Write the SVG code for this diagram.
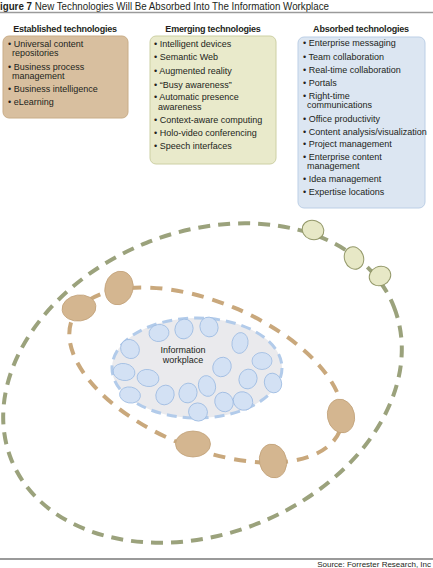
<svg xmlns="http://www.w3.org/2000/svg" width="433" height="568" viewBox="0 0 433 568">
<style>
text{font-family:"Liberation Sans",Arial,sans-serif;fill:#231f20}
.hd{font-size:9px;font-weight:bold;text-anchor:middle;letter-spacing:-0.2px}
.it{font-size:9px}
.green{fill:none;stroke:#9ba27c;stroke-width:4;stroke-dasharray:12 8}
.tan{fill:none;stroke:#c9a87c;stroke-width:4;stroke-dasharray:12 9}
.tb{fill:#d4b690;stroke:#c2a27a;stroke-width:0.8}
.gb{fill:#e7e8c6;stroke:#939869;stroke-width:1}
.bb{fill:#d3e1f4;stroke:#9dbbe2;stroke-width:0.8}
</style>
<rect width="433" height="568" fill="#ffffff"/>
<text x="0" y="9.5" font-size="10" textLength="329" lengthAdjust="spacingAndGlyphs"><tspan font-weight="bold">igure 7</tspan> New Technologies Will Be Absorbed Into The Information Workplace</text>
<line x1="0" y1="12.5" x2="433" y2="12.5" stroke="#9a9a9a" stroke-width="1.5"/>

<g id="established">
<text class="hd" x="65" y="31.5">Established technologies</text>
<rect x="3" y="36" width="125" height="82" rx="6" fill="#d8bf9f" stroke="#c9ad88" stroke-width="1"/>
<text class="it" x="8" y="47">• Universal content</text>
<text class="it" x="12" y="55.5">repositories</text>
<text class="it" x="8" y="70">• Business process</text>
<text class="it" x="12" y="78.5">management</text>
<text class="it" x="8" y="92">• Business intelligence</text>
<text class="it" x="8" y="105">• eLearning</text>
</g>

<g id="emerging">
<text class="hd" x="213" y="31.5">Emerging technologies</text>
<rect x="150" y="36" width="126" height="128" rx="6" fill="#e9eacb" stroke="#cdd0a4" stroke-width="1"/>
<text class="it" x="154" y="47">• Intelligent devices</text>
<text class="it" x="154" y="60">• Semantic Web</text>
<text class="it" x="154" y="74">• Augmented reality</text>
<text class="it" x="154" y="87.5">• “Busy awareness”</text>
<text class="it" x="154" y="100">• Automatic presence</text>
<text class="it" x="158" y="109.5">awareness</text>
<text class="it" x="154" y="122.5">• Context-aware computing</text>
<text class="it" x="154" y="136">• Holo-video conferencing</text>
<text class="it" x="154" y="148.5">• Speech interfaces</text>
</g>

<g id="absorbed">
<text class="hd" x="361" y="31.5">Absorbed technologies</text>
<rect x="298" y="37" width="127" height="171" rx="6" fill="#dce6f2" stroke="#bccfe6" stroke-width="1"/>
<text class="it" x="303" y="46">• Enterprise messaging</text>
<text class="it" x="303" y="59.5">• Team collaboration</text>
<text class="it" x="303" y="72.5">• Real-time collaboration</text>
<text class="it" x="303" y="86">• Portals</text>
<text class="it" x="303" y="98.5">• Right-time</text>
<text class="it" x="307" y="107.5">communications</text>
<text class="it" x="303" y="121.5">• Office productivity</text>
<text class="it" x="303" y="134.5">• Content analysis/visualization</text>
<text class="it" x="303" y="147">• Project management</text>
<text class="it" x="303" y="160">• Enterprise content</text>
<text class="it" x="307" y="168.5">management</text>
<text class="it" x="303" y="182">• Idea management</text>
<text class="it" x="303" y="195">• Expertise locations</text>
</g>

<g id="connectors">
<ellipse class="green" cx="202.5" cy="383" rx="206" ry="151" transform="rotate(-21.8 202.5 383)"/>
<ellipse class="tan" cx="206" cy="375" rx="145" ry="73" transform="rotate(22.7 206 375)"/>
</g>

<g id="information-workplace">
<ellipse cx="197" cy="368" rx="85" ry="50" fill="#eaeaed" stroke="#b2cbea" stroke-width="3" stroke-dasharray="10 6"/>
<ellipse class="bb" cx="130" cy="349" rx="10" ry="9" transform="rotate(50 130 349)"/>
<ellipse class="bb" cx="159" cy="333" rx="10" ry="8.5" transform="rotate(-10 159 333)"/>
<ellipse class="bb" cx="184" cy="329" rx="9" ry="10" transform="rotate(20 184 329)"/>
<ellipse class="bb" cx="209" cy="327" rx="9" ry="10" transform="rotate(-20 209 327)"/>
<ellipse class="bb" cx="240" cy="343" rx="8" ry="10.5" transform="rotate(10 240 343)"/>
<ellipse class="bb" cx="262" cy="361" rx="10" ry="8.5"/>
<ellipse class="bb" cx="273" cy="383" rx="8.5" ry="10" transform="rotate(-20 273 383)"/>
<ellipse class="bb" cx="248" cy="379" rx="9" ry="10" transform="rotate(20 248 379)"/>
<ellipse class="bb" cx="222" cy="367" rx="9" ry="10" transform="rotate(30 222 367)"/>
<ellipse class="bb" cx="207" cy="386" rx="8.5" ry="10.5" transform="rotate(-15 207 386)"/>
<ellipse class="bb" cx="224" cy="402" rx="9" ry="10" transform="rotate(-30 224 402)"/>
<ellipse class="bb" cx="243" cy="401" rx="10" ry="9" transform="rotate(30 243 401)"/>
<ellipse class="bb" cx="198" cy="412" rx="9.5" ry="9" transform="rotate(20 198 412)"/>
<ellipse class="bb" cx="188" cy="393" rx="9" ry="10" transform="rotate(20 188 393)"/>
<ellipse class="bb" cx="165" cy="395" rx="9" ry="10" transform="rotate(25 165 395)"/>
<ellipse class="bb" cx="148" cy="378" rx="11" ry="8.5" transform="rotate(10 148 378)"/>
<ellipse class="bb" cx="124" cy="372" rx="11" ry="8.5" transform="rotate(10 124 372)"/>
<ellipse class="bb" cx="130" cy="395" rx="10.5" ry="8" transform="rotate(10 130 395)"/>
<text x="183" y="353" font-size="9" text-anchor="middle">Information</text>
<text x="183" y="362.5" font-size="9" text-anchor="middle">workplace</text>
</g>

<g id="established-blobs">
<ellipse class="tb" cx="79" cy="308" rx="17" ry="13" transform="rotate(-8 79 308)"/>
<ellipse class="tb" cx="119" cy="288" rx="14" ry="17" transform="rotate(15 119 288)"/>
<ellipse class="tb" cx="193" cy="444" rx="17.5" ry="13"/>
<ellipse class="tb" cx="273" cy="461" rx="13.5" ry="17" transform="rotate(-12 273 461)"/>
<ellipse class="tb" cx="341" cy="416" rx="13.5" ry="17" transform="rotate(-12 341 416)"/>
</g>

<g id="emerging-blobs">
<ellipse class="gb" cx="313" cy="230" rx="11" ry="9.5" transform="rotate(20 313 230)"/>
<ellipse class="gb" cx="354" cy="258" rx="9.5" ry="11.5" transform="rotate(-20 354 258)"/>
<ellipse class="gb" cx="380" cy="276" rx="11" ry="9.5" transform="rotate(-25 380 276)"/>
</g>

<line x1="0" y1="559" x2="433" y2="559" stroke="#9a9a9a" stroke-width="2"/>
<text x="431" y="567" font-size="8" text-anchor="end">Source: Forrester Research, Inc</text>
</svg>
